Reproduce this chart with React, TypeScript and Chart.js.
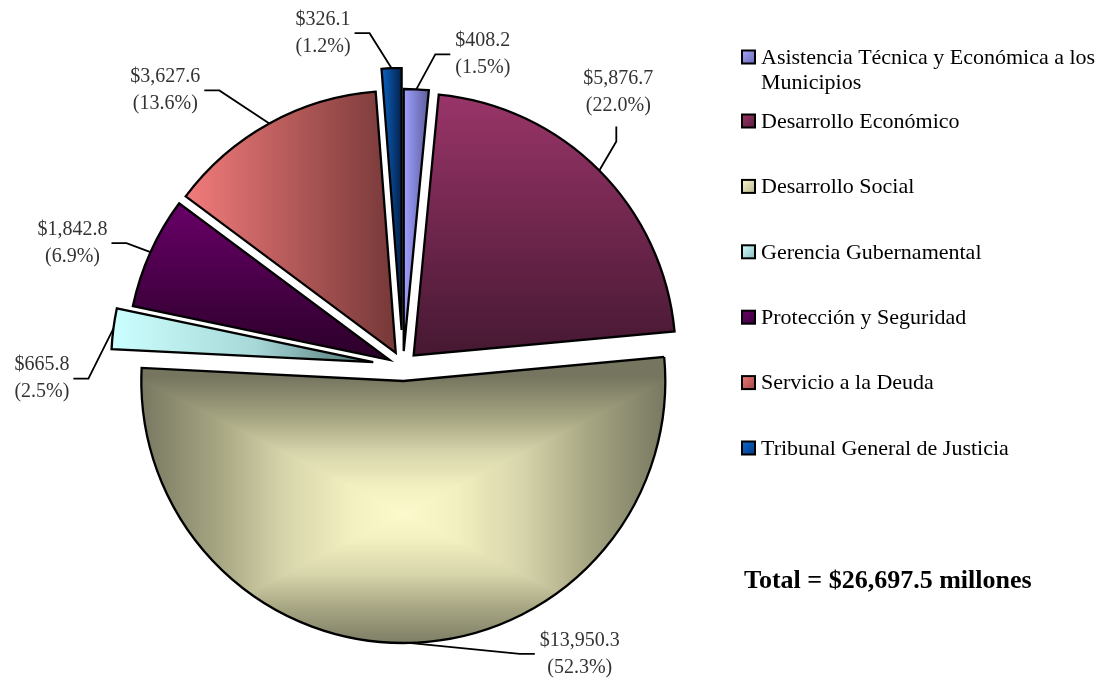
import React, { useEffect, useRef } from 'react';
import { Chart, registerables, ArcElement } from 'chart.js';

Chart.register(...registerables);

// ---------- data ----------
const CATEGORIES = [
  'Asistencia Técnica y Económica a los Municipios',
  'Desarrollo Económico',
  'Desarrollo Social',
  'Gerencia Gubernamental',
  'Protección y Seguridad',
  'Servicio a la Deuda',
  'Tribunal General de Justicia',
];
const VALUES = [408.2, 5876.7, 13950.3, 665.8, 1842.8, 3627.6, 326.1];
const TOTAL_LABEL = 'Total = $26,697.5 millones';

// ---------- style ----------
const RADIUS = 262;
const EXPLODE = [15, 15, 15, 30, 15, 15, 36];
// leader elbow offset from the slice edge, and direction of the last segment
const LEADERS: [number, number, string][] = [
  [19, -35, 'r'],
  [17, -29, 'u'],
  [111, 11, 'r'],
  [-25, 50, 'l'],
  [-24, -9, 'l'],
  [-50, -33, 'l'],
  [-22, -35, 'l'],
];
const MARKER_COLORS: [string, string][] = [
  ['#a4a4ff', '#6a6ab4'],
  ['#9a3466', '#5a1e40'],
  ['#fbf9c9', '#b8b690'],
  ['#d0ffff', '#8cbaba'],
  ['#6a006a', '#3a003a'],
  ['#f07a7a', '#a04848'],
  ['#0a6ad0', '#073a80'],
];
const SERIF = '"Liberation Serif", "Times New Roman", serif';

// ---------- explode patch ----------
const AP: any = ArcElement.prototype;
if (!AP.__explodePatched) {
  const baseDraw = AP.draw;
  AP.draw = function (ctx: CanvasRenderingContext2D) {
    const ex = this._explode || 0;
    const mid = (this.startAngle + this.endAngle) / 2;
    ctx.save();
    ctx.translate(Math.cos(mid) * ex, Math.sin(mid) * ex);
    baseDraw.call(this, ctx);
    ctx.restore();
  };
  AP.__explodePatched = true;
}

let socialCache: { key: string; pat: CanvasPattern | null } | null = null;

function lerpStops(stops: [number, number[]][], t: number) {
  for (let k = 1; k < stops.length; k++) {
    if (t <= stops[k][0]) {
      const [t0, c0] = stops[k - 1];
      const [t1, c1] = stops[k];
      const f = (t - t0) / (t1 - t0 || 1);
      return c0.map((v, j) => v + (c1[j] - v) * f);
    }
  }
  return stops[stops.length - 1][1];
}

function socialPattern(ctx: CanvasRenderingContext2D, cx: number, cy: number, R: number) {
  const key = `${cx},${cy},${R}`;
  if (socialCache && socialCache.key === key) return socialCache.pat;
  const off = document.createElement('canvas');
  off.width = Math.ceil(cx + R + 20);
  off.height = Math.ceil(cy + R + 20);
  const o = off.getContext('2d')!;
  const img = o.createImageData(off.width, off.height);
  const lx = cx, ly = cy + 132, hw = R + 4, hh = 136;
  const stops: [number, number[]][] = [
    [0, [252, 250, 204]],
    [0.2, [242, 240, 192]],
    [0.45, [214, 212, 170]],
    [0.7, [166, 165, 130]],
    [1, [118, 118, 96]],
  ];
  const y0 = Math.max(0, Math.floor(cy - 40));
  const x0 = Math.max(0, Math.floor(cx - R - 20));
  for (let y = y0; y < off.height; y++) {
    for (let x = x0; x < off.width; x++) {
      const t = Math.min(1, Math.max(Math.abs(x - lx) / hw, Math.abs(y - ly) / hh));
      const c = lerpStops(stops, t);
      const p = (y * off.width + x) * 4;
      img.data[p] = c[0];
      img.data[p + 1] = c[1];
      img.data[p + 2] = c[2];
      img.data[p + 3] = 255;
    }
  }
  o.putImageData(img, 0, 0);
  const pat = ctx.createPattern(off, 'no-repeat');
  socialCache = { key, pat };
  return pat;
}

function sliceFill(c: any) {
  const chart = c.chart;
  const area = chart.chartArea;
  const i = c.dataIndex;
  if (!area) return MARKER_COLORS[i][0];
  const g: CanvasRenderingContext2D = chart.ctx;
  const cx = (area.left + area.right) / 2;
  const cy = (area.top + area.bottom) / 2;
  const R = RADIUS;
  let gr: CanvasGradient;
  switch (i) {
    case 0:
      gr = g.createLinearGradient(cx, 0, cx + 26, 0);
      gr.addColorStop(0, '#a0a0ff');
      gr.addColorStop(1, '#5a5a98');
      return gr;
    case 1:
      gr = g.createLinearGradient(0, cy - R, 0, cy);
      gr.addColorStop(0, '#9a3569');
      gr.addColorStop(1, '#461832');
      return gr;
    case 2:
      return socialPattern(g, cx, cy, R) || '#c8c6a0';
    case 3:
      gr = g.createLinearGradient(cx - R, 0, cx, 0);
      gr.addColorStop(0, '#ccffff');
      gr.addColorStop(0.55, '#a8d8d8');
      gr.addColorStop(1, '#4a7070');
      return gr;
    case 4:
      gr = g.createLinearGradient(0, cy - 160, 0, cy);
      gr.addColorStop(0, '#6a006a');
      gr.addColorStop(1, '#2a0028');
      return gr;
    case 5:
      gr = g.createLinearGradient(cx - 212, 0, cx, 0);
      gr.addColorStop(0, '#f47c7c');
      gr.addColorStop(1, '#763838');
      return gr;
    default:
      gr = g.createLinearGradient(cx - 22, 0, cx, 0);
      gr.addColorStop(0, '#0a6ad0');
      gr.addColorStop(1, '#05224c');
      return gr;
  }
}

function wrapText(ctx: CanvasRenderingContext2D, text: string, maxW: number) {
  const words = text.split(' ');
  const lines: string[] = [];
  let cur = '';
  for (const w of words) {
    const test = cur ? cur + ' ' + w : w;
    if (ctx.measureText(test).width > maxW && cur) {
      lines.push(cur);
      cur = w;
    } else cur = test;
  }
  if (cur) lines.push(cur);
  return lines;
}

const explodePlugin = {
  id: 'explodeSetter',
  beforeDatasetsDraw(chart: any) {
    const meta = chart.getDatasetMeta(0);
    meta.data.forEach((el: any, i: number) => {
      el._explode = EXPLODE[i] || 0;
    });
  },
};

const labelPlugin = {
  id: 'leaderLabels',
  afterDatasetsDraw(chart: any) {
    const ctx: CanvasRenderingContext2D = chart.ctx;
    const meta = chart.getDatasetMeta(0);
    const total = VALUES.reduce((a, b) => a + b, 0);
    ctx.save();
    ctx.strokeStyle = '#000';
    ctx.lineWidth = 1.8;
    ctx.font = `20px ${SERIF}`;
    ctx.fillStyle = '#333';
    ctx.textAlign = 'center';
    ctx.textBaseline = 'middle';
    meta.data.forEach((el: any, i: number) => {
      const p = el.getProps(['x', 'y', 'startAngle', 'endAngle', 'outerRadius'], true);
      const mid = (p.startAngle + p.endAngle) / 2;
      const rr = p.outerRadius + (EXPLODE[i] || 0);
      const ax = p.x + Math.cos(mid) * rr;
      const ay = p.y + Math.sin(mid) * rr;
      const [dx, dy, dir] = LEADERS[i];
      const ex = ax + dx;
      const ey = ay + dy;
      const l1 = '$' + VALUES[i].toLocaleString('en-US', { minimumFractionDigits: 1, maximumFractionDigits: 1 });
      const l2 = '(' + ((VALUES[i] / total) * 100).toFixed(1) + '%)';
      const w = Math.max(ctx.measureText(l1).width, ctx.measureText(l2).width);
      ctx.beginPath();
      ctx.moveTo(ax, ay);
      ctx.lineTo(ex, ey);
      let tx = ex, ty = ey;
      if (dir === 'u') {
        ctx.lineTo(ex, ey - 15);
        tx = ex + 2;
        ty = ey - 15 - 34;
      } else if (dir === 'r') {
        ctx.lineTo(ex + 15, ey);
        tx = ex + 15 + 5 + w / 2;
      } else {
        ctx.lineTo(ex - 15, ey);
        tx = ex - 15 - 4 - w / 2;
      }
      ctx.stroke();
      ctx.fillText(l1, tx, ty - 13.5);
      ctx.fillText(l2, tx, ty + 13.5);
    });
    ctx.restore();
  },
};

const legendPlugin = {
  id: 'sideLegend',
  afterDraw(chart: any) {
    const ctx: CanvasRenderingContext2D = chart.ctx;
    ctx.save();
    ctx.font = `22px ${SERIF}`;
    ctx.textAlign = 'left';
    ctx.textBaseline = 'middle';
    const mx = 742, tx = 761, size = 13;
    CATEGORIES.forEach((name, i) => {
      const y = i === 0 ? 57 : 121 + (i - 1) * 65.4;
      const [c0, c1] = MARKER_COLORS[i];
      const gr = ctx.createLinearGradient(mx, y - size / 2, mx + size, y + size / 2);
      gr.addColorStop(0, c0);
      gr.addColorStop(1, c1);
      ctx.fillStyle = gr;
      ctx.fillRect(mx, y - size / 2, size, size);
      ctx.strokeStyle = '#000';
      ctx.lineWidth = 2;
      ctx.strokeRect(mx, y - size / 2, size, size);
      ctx.fillStyle = '#000';
      const lines = wrapText(ctx, name, 1107 - tx);
      lines.forEach((ln, k) => ctx.fillText(ln, tx, y + 1 + k * 25));
    });
    ctx.font = `bold 26px ${SERIF}`;
    ctx.fillStyle = '#000';
    ctx.fillText(TOTAL_LABEL, 744, 581);
    ctx.restore();
  },
};

export default function App() {
  const ref = useRef<HTMLCanvasElement | null>(null);
  useEffect(() => {
    if (!ref.current) return;
    const chart = new Chart(ref.current, {
      type: 'pie',
      data: {
        labels: CATEGORIES,
        datasets: [
          {
            data: VALUES,
            backgroundColor: sliceFill as any,
            borderColor: '#000',
            borderWidth: 2.3,
            borderJoinStyle: 'miter',
            radius: RADIUS,
            clip: false,
          } as any,
        ],
      },
      options: {
        responsive: true,
        maintainAspectRatio: false,
        animation: false,
        events: [],
        layout: { padding: { left: 0, right: 303, top: 51, bottom: 0 } },
        plugins: { legend: { display: false }, tooltip: { enabled: false } },
      },
      plugins: [explodePlugin, labelPlugin, legendPlugin],
    });
    return () => chart.destroy();
  }, []);
  return (
    <div style={{ position: 'absolute', left: 0, top: 0, width: 1109, height: 681, background: '#fff' }}>
      <canvas ref={ref} />
    </div>
  );
}
